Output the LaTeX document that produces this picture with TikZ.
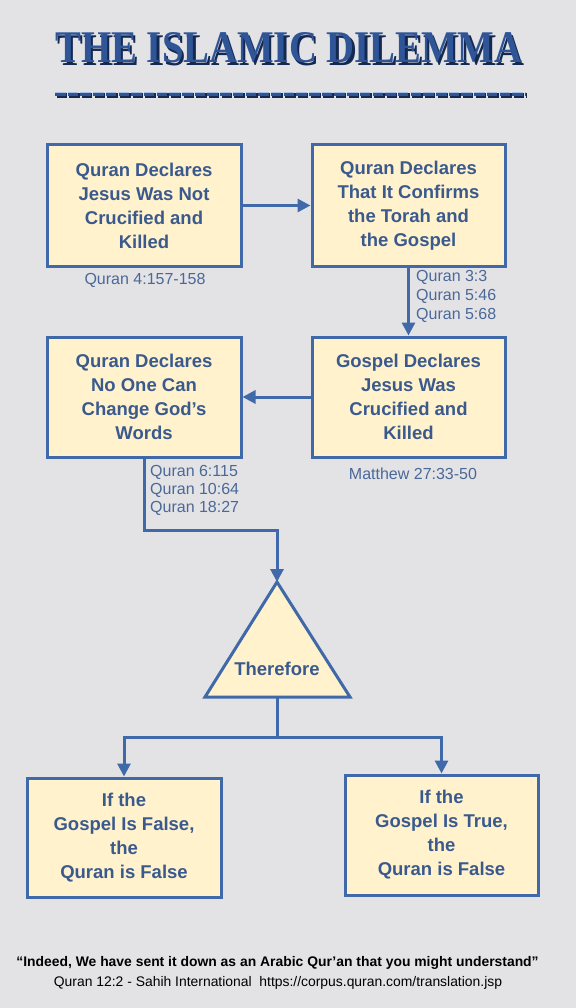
\documentclass[tikz,border=0pt]{standalone}
\usepackage{fontspec}
\setmainfont{Liberation Sans}
\newfontfamily\titlefont{Liberation Serif}
\usetikzlibrary{arrows.meta,calc}
\definecolor{bg}{HTML}{E3E3E6}
\definecolor{boxfill}{HTML}{FFF2CC}
\definecolor{edge}{HTML}{3F69A8}
\definecolor{boxtext}{HTML}{3A5A8E}
\definecolor{reftext}{HTML}{4A6898}
\definecolor{titleblue}{HTML}{2F5597}
\definecolor{titleshadow}{HTML}{142850}
\definecolor{titlelight}{HTML}{A9C2E6}
\newcommand{\titletext}{\resizebox{467pt}{30pt}{\titlefont\bfseries THE ISLAMIC DILEMMA}}
\tikzset{
  stmt/.style={draw=edge, line width=3pt, fill=boxfill, text=boxtext,
    font=\fontsize{18.5}{24}\selectfont\bfseries, align=center, inner sep=0pt},
  ref/.style={text=reftext, font=\fontsize{16}{19}\selectfont, inner sep=0pt},
  conn/.style={draw=edge, line width=3pt, -{Triangle[length=13pt,width=13pt]}},
  link/.style={draw=edge, line width=3pt},
  dashbar/.style={line width=4.5pt, dash pattern=on 10.5pt off 2.2pt},
}
\begin{document}
\begin{tikzpicture}[x=1pt,y=-1pt]
\useasboundingbox (0,0) rectangle (576,1008);
\fill[bg] (0,0) rectangle (576,1008);
% title with drop shadow (single text node)
\node[text=titleblue] (title) at (289,49)
  {\rlap{\hspace{2.5pt}\raisebox{-2.5pt}{\color{titleshadow}\titletext}}\titletext};
% decorative underline
\draw[titleshadow, dashbar] (56.5,95.5) -- (526.5,95.5);
\draw[titleblue, dashbar] (55,94) -- (525,94);
\draw[titlelight, line width=0.8pt, dash pattern=on 10.5pt off 2.2pt] (55,92.2) -- (525,92.2);
% boxes
\node[stmt, minimum width=194pt, minimum height=121pt] (b1) at (144,205.5)
  {Quran Declares\\Jesus Was Not\\Crucified and\\Killed};
\node[stmt, minimum width=193pt, minimum height=121pt] (b2) at (408.5,205.5)
  {Quran Declares\\That It Confirms\\the Torah and\\the Gospel};
\node[stmt, minimum width=194pt, minimum height=120pt] (b3) at (144,397)
  {Quran Declares\\No One Can\\Change God’s\\Words};
\node[stmt, minimum width=193pt, minimum height=120pt] (b4) at (408.5,397)
  {Gospel Declares\\Jesus Was\\Crucified and\\Killed};
\node[stmt, minimum width=194pt, minimum height=119pt] (b5) at (124,837.5)
  {If the\\Gospel Is False,\\the\\Quran is False};
\node[stmt, minimum width=193pt, minimum height=120pt] (b6) at (441.5,835)
  {If the\\Gospel Is True,\\the\\Quran is False};
% triangle
\coordinate (apex) at (277,582);
\coordinate (tl) at (205,697);
\coordinate (tr) at (350,697);
\coordinate (tbase) at (277,697);
\draw[edge, line width=3pt, fill=boxfill, line join=miter] (apex) -- (tr) -- (tl) -- cycle;
\node[text=boxtext, font=\fontsize{18.5}{24}\selectfont\bfseries] (therefore) at (277,669) {Therefore};
% references
\node[ref] (r1) at (145,280) {Quran 4:157-158};
\node[ref, anchor=north west, align=left] (r2) at (416,270) {Quran 3:3\\Quran 5:46\\Quran 5:68};
\node[ref] (r3) at (413,474) {Matthew 27:33-50};
\node[ref, anchor=north west, align=left, font=\fontsize{16}{18}\selectfont] (r4) at (150,465) {Quran 6:115\\Quran 10:64\\Quran 18:27};
% connectors
\draw[conn] (b1.east) -- (b2.west);
\draw[conn] (b2.south) -- (b4.north);
\draw[conn] (b4.west) -- (b3.east);
\coordinate (bend) at (277,530);
\draw[conn] (b3.south) |- (bend) -- (apex);
\coordinate (split) at (277,737);
\draw[link] (tbase) -- (split);
\draw[conn] (split) -| (b5.north);
\draw[conn] (split) -| (b6.north);
% footer
\node[font=\fontsize{13.9}{16}\selectfont\bfseries, text=black] (quote) at (277.5,963)
  {“Indeed, We have sent it down as an Arabic Qur'an that you might understand”};
\node[font=\fontsize{13.9}{16}\selectfont, text=black] (source) at (278,983)
  {Quran 12:2 - Sahih International\ \ https://corpus.quran.com/translation.jsp};
\end{tikzpicture}
\end{document}
